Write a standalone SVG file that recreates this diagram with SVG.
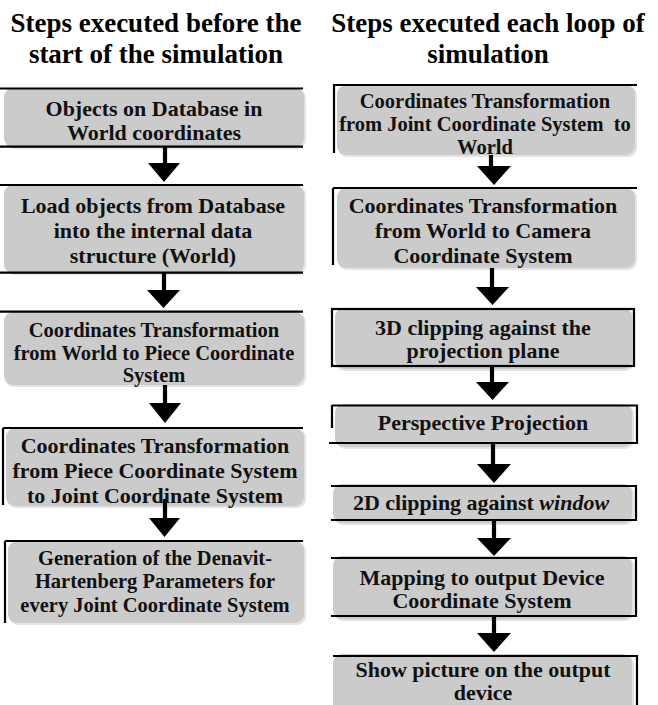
<svg xmlns="http://www.w3.org/2000/svg" width="658" height="705" viewBox="0 0 658 705">
<defs>
<style>
.sh{fill:#e3e3e3}
.bx{fill:#cbcbcb}
.ed{stroke:#000;stroke-width:2.2;fill:none}
.t{font-family:"Liberation Serif","Times New Roman",serif;font-weight:bold;fill:#111;text-anchor:middle;font-size:22px}
.s{font-size:20.5px}
.ti{font-family:"Liberation Serif","Times New Roman",serif;font-weight:bold;fill:#000;text-anchor:middle;font-size:27px}
.sf{stroke:#000;stroke-width:4.2}
.hd{fill:#000}
</style>
</defs>
<rect width="658" height="705" fill="#fff"/>
<g id="titles">
<text class="ti" x="156" y="32">Steps executed before the</text>
<text class="ti" x="156" y="63">start of the simulation</text>
<text class="ti" x="488" y="32">Steps executed each loop of</text>
<text class="ti" x="488" y="63">simulation</text>
</g>
<g id="L1">
<rect class="sh" x="5" y="89" width="301" height="60" rx="9"/>
<rect class="bx" x="4" y="88" width="300" height="59" rx="9"/>
<path class="ed" d="M0 88.5H303M0 146.7H303"/>
<text class="t" x="154" y="115.5">Objects on Database in</text>
<text class="t" x="154" y="140">World coordinates</text>
</g>
<g id="L2">
<rect class="sh" x="5" y="186" width="301" height="89" rx="9"/>
<rect class="bx" x="4" y="185" width="300" height="88" rx="9"/>
<path class="ed" d="M0 185H303M0 272.7H303"/>
<text class="t" x="153" y="213">Load objects from Database</text>
<text class="t" x="153" y="238">into the internal data</text>
<text class="t" x="153" y="263">structure (World)</text>
</g>
<g id="L3">
<rect class="sh" x="5" y="313" width="301" height="74" rx="9"/>
<rect class="bx" x="4" y="312" width="300" height="73" rx="9"/>
<path class="ed" d="M0 311.7H303"/>
<text class="t s" x="154" y="337">Coordinates Transformation</text>
<text class="t s" x="154" y="360">from World to Piece Coordinate</text>
<text class="t s" x="154" y="382">System</text>
</g>
<g id="L4">
<rect class="sh" x="7" y="429" width="299" height="79" rx="9"/>
<rect class="bx" x="6" y="428" width="298" height="78" rx="9"/>
<path class="ed" d="M3 428H303M3 428V505"/>
<text class="t" x="155" y="453">Coordinates Transformation</text>
<text class="t" x="155" y="478">from Piece Coordinate System</text>
<text class="t" x="155" y="503">to Joint Coordinate System</text>
</g>
<g id="L5">
<rect class="sh" x="9" y="542" width="297" height="83" rx="9"/>
<rect class="bx" x="8" y="541" width="296" height="82" rx="9"/>
<path class="ed" d="M5 541H303M5 541V623"/>
<text class="t s" x="155" y="565">Generation of the Denavit-</text>
<text class="t s" x="155" y="588">Hartenberg Parameters for</text>
<text class="t s" x="155" y="612">every Joint Coordinate System</text>
</g>
<g id="R1">
<rect class="sh" x="338" y="86" width="299" height="71" rx="9"/>
<rect class="bx" x="337" y="85" width="298" height="70" rx="9"/>
<path class="ed" d="M333 85H637M334 85V153"/>
<text class="t s" x="485" y="108">Coordinates Transformation</text>
<text class="t s" x="485" y="131" xml:space="preserve">from Joint Coordinate System  to</text>
<text class="t s" x="485" y="154">World</text>
</g>
<g id="R2">
<rect class="sh" x="338" y="189" width="299" height="81" rx="9"/>
<rect class="bx" x="337" y="188" width="298" height="80" rx="9"/>
<path class="ed" d="M333 188H637M333 188V265"/>
<text class="t" x="483" y="213">Coordinates Transformation</text>
<text class="t" x="483" y="238">from World to Camera</text>
<text class="t" x="483" y="263">Coordinate System</text>
</g>
<g id="R3">
<rect class="sh" x="336" y="309" width="298" height="62" rx="9"/>
<rect class="bx" x="335" y="308" width="297" height="61" rx="9"/>
<rect class="ed" x="332" y="309" width="302" height="57"/>
<text class="t" x="483" y="335">3D clipping against the</text>
<text class="t" x="483" y="358">projection plane</text>
</g>
<g id="R4">
<rect class="sh" x="336" y="405" width="298" height="44" rx="9"/>
<rect class="bx" x="335" y="404" width="297" height="43" rx="9"/>
<path class="ed" d="M332 405.5H637V443H329M332 405V428"/>
<text class="t" x="483" y="430">Perspective Projection</text>
</g>
<g id="R5">
<rect class="sh" x="334" y="485" width="300" height="40" rx="9"/>
<rect class="bx" x="333" y="484" width="299" height="39" rx="9"/>
<path class="ed" d="M331 486H636V520H331"/>
<text class="t" x="481" y="510">2D clipping against <tspan font-style="italic">window</tspan></text>
</g>
<g id="R6">
<rect class="sh" x="334" y="557" width="300" height="64" rx="9"/>
<rect class="bx" x="333" y="556" width="299" height="63" rx="9"/>
<path class="ed" d="M331 558H636V616H331"/>
<text class="t" x="482" y="585">Mapping to output Device</text>
<text class="t" x="482" y="608">Coordinate System</text>
</g>
<g id="R7">
<rect class="sh" x="334" y="655" width="300" height="60" rx="9"/>
<rect class="bx" x="333" y="654" width="299" height="60" rx="9"/>
<path class="ed" d="M333 656H637V705"/>
<text class="t" x="483" y="677">Show picture on the output</text>
<text class="t" x="483" y="700">device</text>
</g>
<g id="connectors">
<path class="sf" d="M165 147V165M164 273V291M165 385V405M165 499V520M491 155V167M492 268V289M492 366V383M493 443V466M494 520V540M494 616V634"/>
<path class="hd" d="M148 163H180L164 182ZM147 290H180L163.5 308ZM149 403H181L165 423ZM149 518H180L164.5 537ZM477 166H511L494 185ZM476 287H509L492.5 305ZM476 382H509L492.5 400ZM477 464H511L494 483ZM477 538H511L494 556ZM477 633H511L494 652Z"/>
</g>
</svg>
